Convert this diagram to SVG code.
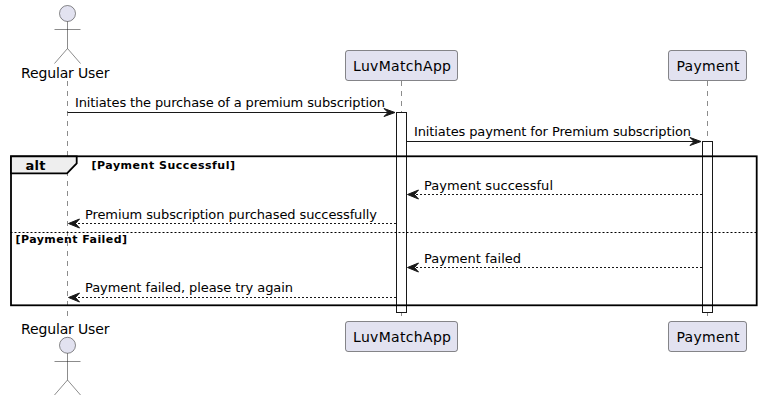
<svg xmlns="http://www.w3.org/2000/svg" width="762" height="401" viewBox="0 0 762 401">
<style>
text{font-family:"DejaVu Sans",sans-serif;fill:#000}
.life{stroke:#181818;stroke-width:.5;stroke-dasharray:5,5;fill:none}
.box{fill:#E2E2F0;stroke:#181818;stroke-width:.5}
.act{fill:#fff;stroke:#181818;stroke-width:1}
.head{fill:#E2E2F0;stroke:#181818;stroke-width:.5}
.limb{fill:none;stroke:#181818;stroke-width:.5}
.msg{stroke:#181818;stroke-width:1;fill:none}
.ret{stroke-dasharray:2,2}
.ah{fill:#181818;stroke:#181818;stroke-width:1}
.m{font-size:13px}
.p{font-size:14px}
.g{font-size:11px;font-weight:bold}
</style>
<g id="lifelines">
<line class="life" x1="67.5" y1="81" x2="67.5" y2="321"/>
<line class="life" x1="401.5" y1="81" x2="401.5" y2="321"/>
<line class="life" x1="707.5" y1="81" x2="707.5" y2="321"/>
</g>
<g id="user-top">
<circle class="head" cx="67.5" cy="13.5" r="8"/>
<path class="limb" d="M67.5 21.5V48.5M54.5 29.5H80.5M67.5 48.5L54.5 63.5M67.5 48.5L80.5 63.5"/>
<text class="p" x="21" y="78" textLength="88.5">Regular User</text>
</g>
<g id="app-top">
<rect class="box" x="345.5" y="50.5" width="112" height="30" rx="2.5"/>
<text class="p" x="353" y="71" textLength="98">LuvMatchApp</text>
</g>
<g id="payment-top">
<rect class="box" x="668.5" y="50.5" width="78" height="30" rx="2.5"/>
<text class="p" x="676.5" y="71" textLength="63">Payment</text>
</g>
<g id="activations">
<rect class="act" x="396.5" y="112.5" width="10" height="200"/>
<rect class="act" x="702.5" y="141.5" width="10" height="171"/>
</g>
<g id="alt-frame">
<rect x="11" y="156.3" width="745.7" height="149" fill="none" stroke="#000" stroke-width="1.8"/>
<path d="M11 156.3H76.7V163.3L67 173.3H11Z" fill="#EEE" stroke="#000" stroke-width="1.8"/>
<text x="25.5" y="169.5" font-size="13" font-weight="bold" textLength="20">alt</text>
<text class="g" x="91.5" y="169" textLength="143.5">[Payment Successful]</text>
<line x1="10.5" y1="232.5" x2="756.5" y2="232.5" stroke="#000" stroke-width="1" stroke-dasharray="2,2"/>
<text class="g" x="15.5" y="243" textLength="111.5">[Payment Failed]</text>
</g>
<g id="connectors">
<line class="msg" x1="67.5" y1="112.5" x2="392" y2="112.5"/>
<path class="ah" d="M395 112.5L384 108.5L388 112.5L384 116.5Z"/>
<text class="m" x="75" y="107" textLength="310">Initiates the purchase of a premium subscription</text>
<line class="msg" x1="406.5" y1="141.5" x2="698" y2="141.5"/>
<path class="ah" d="M701 141.5L690 137.5L694 141.5L690 145.5Z"/>
<text class="m" x="414" y="136" textLength="277">Initiates payment for Premium subscription</text>
<line class="msg ret" x1="702" y1="194.5" x2="411" y2="194.5"/>
<path class="ah" d="M407.5 194.5L418.5 190L414.5 194.5L418.5 199Z"/>
<text class="m" x="424" y="190" textLength="129">Payment successful</text>
<line class="msg ret" x1="396" y1="223.5" x2="72" y2="223.5"/>
<path class="ah" d="M68.5 223.5L79.5 219L75.5 223.5L79.5 228Z"/>
<text class="m" x="85" y="219" textLength="292">Premium subscription purchased successfully</text>
<line class="msg ret" x1="702" y1="267.5" x2="411" y2="267.5"/>
<path class="ah" d="M407.5 267.5L418.5 263L414.5 267.5L418.5 272Z"/>
<text class="m" x="424" y="263" textLength="97">Payment failed</text>
<line class="msg ret" x1="396" y1="297.5" x2="72" y2="297.5"/>
<path class="ah" d="M68.5 297.5L79.5 293L75.5 297.5L79.5 302Z"/>
<text class="m" x="85" y="292" textLength="208">Payment failed, please try again</text>
</g>
<g id="user-bottom">
<text class="p" x="21" y="334" textLength="88.5">Regular User</text>
<circle class="head" cx="67.5" cy="345.3" r="8"/>
<path class="limb" d="M67.5 353.3V380M54.5 361.5H80.5M67.5 380L54.5 395M67.5 380L80.5 395"/>
</g>
<g id="app-bottom">
<rect class="box" x="345.5" y="321.5" width="112" height="30" rx="2.5"/>
<text class="p" x="353" y="342" textLength="98">LuvMatchApp</text>
</g>
<g id="payment-bottom">
<rect class="box" x="668.5" y="321.5" width="78" height="30" rx="2.5"/>
<text class="p" x="676.5" y="342" textLength="63">Payment</text>
</g>
</svg>
